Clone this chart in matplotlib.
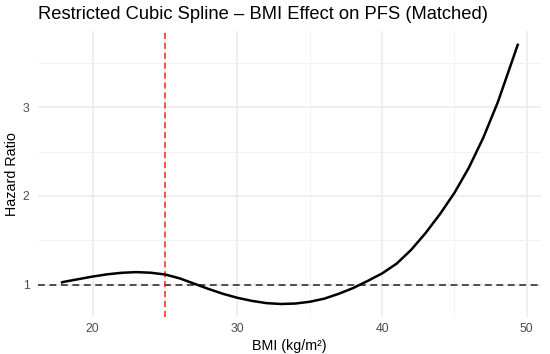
import numpy as np
import matplotlib
matplotlib.use("Agg")
import matplotlib.pyplot as plt
from matplotlib.ticker import MultipleLocator

# values
bmi = [17.8, 18, 19, 20, 21, 22, 23, 24, 25, 26, 27, 28, 29, 30, 31, 32, 33,
       34, 35, 36, 37, 38, 39, 40, 41, 42, 43, 44, 45, 46, 47, 48, 49, 49.4]
hazard_ratio = [1.02, 1.03, 1.06, 1.09, 1.115, 1.132, 1.14, 1.133, 1.113,
                1.07, 1.01, 0.95, 0.895, 0.85, 0.815, 0.79, 0.78, 0.785,
                0.805, 0.84, 0.895, 0.96, 1.04, 1.125, 1.235, 1.39, 1.58,
                1.795, 2.035, 2.32, 2.66, 3.06, 3.53, 3.72]
ref_bmi = 25
ref_hr = 1
x_major = [20, 30, 40, 50]
y_major = [1, 2, 3]

plt.rcParams["font.family"] = ["Liberation Sans", "DejaVu Sans"]

fig = plt.figure(figsize=(5.5, 3.54), dpi=100)
ax = fig.add_axes([0.0691, 0.1045, 0.9145, 0.8091])

ax.plot(bmi, hazard_ratio, color="black", linewidth=1.8,
        solid_capstyle="butt", solid_joinstyle="round", zorder=3)
ax.axhline(ref_hr, color="#222222", linewidth=1.1, linestyle=(0, (4.5, 3)),
           zorder=2)
ax.axvline(ref_bmi, color="#FF2020", linewidth=1.1, linestyle=(0, (4, 2.5)),
           zorder=2)

ax.margins(0.05)

ax.set_xticks(x_major)
ax.set_yticks(y_major)
ax.xaxis.set_minor_locator(MultipleLocator(5))
ax.yaxis.set_minor_locator(MultipleLocator(0.5))
ax.grid(which="major", color="#EBEBEB", linewidth=1.1)
ax.grid(which="minor", color="#F2F2F2", linewidth=0.7)
ax.set_axisbelow(True)

for s in ax.spines.values():
    s.set_visible(False)
ax.tick_params(which="both", length=0)
ax.tick_params(axis="x", labelsize=8.8, labelcolor="#4D4D4D", pad=4)
ax.tick_params(axis="y", labelsize=8.8, labelcolor="#4D4D4D", pad=6)

ax.set_xlabel("BMI (kg/m²)", fontsize=10.3, color="black", labelpad=3)
ax.set_ylabel("Hazard Ratio", fontsize=10.3, color="black", va="center")
ax.yaxis.set_label_coords(-0.051, 0.5)
ax.set_title("Restricted Cubic Spline – BMI Effect on PFS (Matched)",
             fontsize=13.2, loc="left", pad=8, color="black")

fig.savefig("out.png", dpi=100)
